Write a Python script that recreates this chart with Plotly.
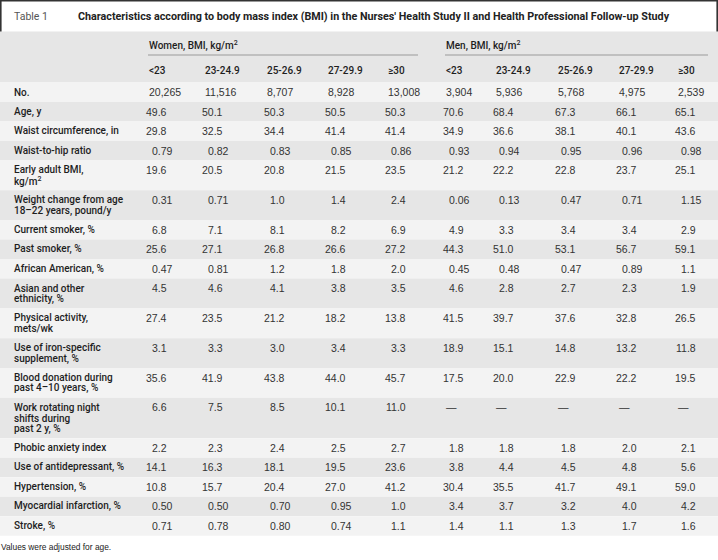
import plotly.graph_objects as go

# table text
title_tag = "Table 1"
title_text = ("Characteristics according to body mass index (BMI) in the Nurses' "
              "Health Study II and Health Professional Follow-up Study")
footnote = "Values were adjusted for age."

groups = ["Women, BMI, kg/m<sup>2</sup>", "Men, BMI, kg/m<sup>2</sup>"]
bmi_cats = ["&lt;23", "23-24.9", "25-26.9", "27-29.9", "≥30"]

row_labels = [
    "No.",
    "Age, y",
    "Waist circumference, in",
    "Waist-to-hip ratio",
    "Early adult BMI,<br>kg/m<sup>2</sup>",
    "Weight change from age<br>18–22 years, pound/y",
    "Current smoker, %",
    "Past smoker, %",
    "African American, %",
    "Asian and other<br>ethnicity, %",
    "Physical activity,<br>mets/wk",
    "Use of iron-specific<br>supplement, %",
    "Blood donation during<br>past 4–10 years, %",
    "Work rotating night<br>shifts during<br>past 2 y, %",
    "Phobic anxiety index",
    "Use of antidepressant, %",
    "Hypertension, %",
    "Myocardial infarction, %",
    "Stroke, %",
]

women = [
    ["20,265", "11,516", "8,707", "8,928", "13,008"],
    ["49.6", "50.1", "50.3", "50.5", "50.3"],
    ["29.8", "32.5", "34.4", "41.4", "41.4"],
    ["0.79", "0.82", "0.83", "0.85", "0.86"],
    ["19.6", "20.5", "20.8", "21.5", "23.5"],
    ["0.31", "0.71", "1.0", "1.4", "2.4"],
    ["6.8", "7.1", "8.1", "8.2", "6.9"],
    ["25.6", "27.1", "26.8", "26.6", "27.2"],
    ["0.47", "0.81", "1.2", "1.8", "2.0"],
    ["4.5", "4.6", "4.1", "3.8", "3.5"],
    ["27.4", "23.5", "21.2", "18.2", "13.8"],
    ["3.1", "3.3", "3.0", "3.4", "3.3"],
    ["35.6", "41.9", "43.8", "44.0", "45.7"],
    ["6.6", "7.5", "8.5", "10.1", "11.0"],
    ["2.2", "2.3", "2.4", "2.5", "2.7"],
    ["14.1", "16.3", "18.1", "19.5", "23.6"],
    ["10.8", "15.7", "20.4", "27.0", "41.2"],
    ["0.50", "0.50", "0.70", "0.95", "1.0"],
    ["0.71", "0.78", "0.80", "0.74", "1.1"],
]

men = [
    ["3,904", "5,936", "5,768", "4,975", "2,539"],
    ["70.6", "68.4", "67.3", "66.1", "65.1"],
    ["34.9", "36.6", "38.1", "40.1", "43.6"],
    ["0.93", "0.94", "0.95", "0.96", "0.98"],
    ["21.2", "22.2", "22.8", "23.7", "25.1"],
    ["0.06", "0.13", "0.47", "0.71", "1.15"],
    ["4.9", "3.3", "3.4", "3.4", "2.9"],
    ["44.3", "51.0", "53.1", "56.7", "59.1"],
    ["0.45", "0.48", "0.47", "0.89", "1.1"],
    ["4.6", "2.8", "2.7", "2.3", "1.9"],
    ["41.5", "39.7", "37.6", "32.8", "26.5"],
    ["18.9", "15.1", "14.8", "13.2", "11.8"],
    ["17.5", "20.0", "22.9", "22.2", "19.5"],
    ["—", "—", "—", "—", "—"],
    ["1.8", "1.8", "1.8", "2.0", "2.1"],
    ["3.8", "4.4", "4.5", "4.8", "5.6"],
    ["30.4", "35.5", "41.7", "49.1", "59.0"],
    ["3.4", "3.7", "3.2", "4.0", "4.2"],
    ["1.4", "1.1", "1.3", "1.7", "1.6"],
]

# layout constants (pixel-like coords, y grows downward)
W, H = 718, 560
col_x = [[148, 204, 266, 327, 387], [445, 495, 557, 618, 677]]
digit_w = 5.84   # Liberation Sans digit width at 10.5px
dot_w = 2.92
line_h = 10.8
ROW_TOP = 82.5
LABEL_FONT = dict(family="Roboto", size=10, color="#1e1e1e", weight=500)
NUM_FONT = dict(family="Liberation Sans", size=10.5, color="#333")
GRAY, LIGHT = "#e6e6e6", "#f3f3f3"

fig = go.Figure()
shapes = []
ann = []


def txt(x, y, s, font, xanchor="left"):
    ann.append(dict(x=x, y=y, text=s, showarrow=False, xanchor=xanchor,
                    yanchor="middle", font=font, borderpad=0))


# title box
shapes.append(dict(type="rect", x0=0, x1=W, y0=0, y1=31.5, fillcolor="white",
                   line_width=0, layer="below"))
for xs, ys in [([0.8, 0.8], [0, 31.5]), ([W - 0.8, W - 0.8], [0, 31.5]), ([0, W], [0.8, 0.8])]:
    shapes.append(dict(type="line", x0=xs[0], x1=xs[1], y0=ys[0], y1=ys[1],
                       line=dict(color="#333", width=1.6)))
txt(13, 16, title_tag, dict(family="Roboto", size=10.5, color="#555"))
txt(77, 16, title_text, dict(family="Roboto", size=10.75, color="#222", weight=700))

# header block
shapes.append(dict(type="rect", x0=0, x1=W, y0=31.5, y1=ROW_TOP, fillcolor=GRAY,
                   line_width=0, layer="below"))
for g, name in enumerate(groups):
    txt(col_x[g][0], 45, name, LABEL_FONT)
    shapes.append(dict(type="line", x0=col_x[g][0], x1=col_x[g][-1] + 31, y0=55, y1=55,
                       line=dict(color="#9a9a9a", width=1)))
    for c, cat in enumerate(bmi_cats):
        txt(col_x[g][c], 70.5, cat, LABEL_FONT)

# body rows
top = ROW_TOP
for r, label in enumerate(row_labels):
    lines = label.split("<br>")
    h = {1: 19.5, 2: 29.8, 3: 40.5}[len(lines)]
    shapes.append(dict(type="rect", x0=0, x1=W, y0=top, y1=top + h,
                       fillcolor=LIGHT if r % 2 == 0 else GRAY, line_width=0, layer="below"))
    y = top + 9.5
    for i, ln in enumerate(lines):
        txt(13, y + i * line_h, ln, LABEL_FONT)
    for g, vals in enumerate([women, men]):
        for c, v in enumerate(vals[r]):
            x = col_x[g][c]
            if "." in v:
                # align on the decimal point
                nfrac = len(v.split(".")[1])
                right = x + 2 * digit_w + dot_w + nfrac * digit_w
                txt(right, y, v, NUM_FONT, "right")
            else:
                txt(x, y, v, NUM_FONT)
    top += h

txt(0, 547, footnote, dict(family="Liberation Sans", size=8.4, color="#222"))

fig.update_layout(
    width=W, height=H,
    margin=dict(l=0, r=0, t=0, b=0),
    paper_bgcolor="white", plot_bgcolor="white",
    xaxis=dict(range=[0, W], visible=False, fixedrange=True),
    yaxis=dict(range=[H, 0], visible=False, fixedrange=True),
    shapes=shapes, annotations=ann,
    showlegend=False,
)

fig.write_html("out.html", config={"displayModeBar": False},
               post_script="document.body.style.margin='0px';")
